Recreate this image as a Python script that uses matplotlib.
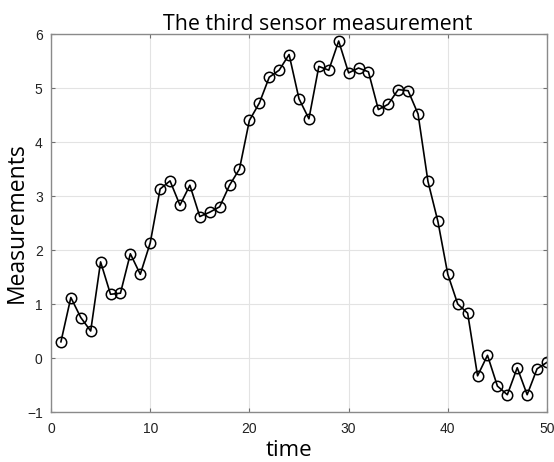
import matplotlib
matplotlib.use('Agg')
import matplotlib.pyplot as plt

time = list(range(1, 51))
measurements = [0.30, 1.12, 0.75, 0.50, 1.78, 1.18, 1.20, 1.93, 1.55, 2.13,
                3.13, 3.28, 2.83, 3.20, 2.62, 2.70, 2.80, 3.20, 3.50, 4.40,
                4.72, 5.20, 5.33, 5.62, 4.80, 4.43, 5.40, 5.33, 5.87, 5.28,
                5.37, 5.30, 4.60, 4.70, 4.97, 4.95, 4.52, 3.27, 2.53, 1.55,
                1.00, 0.83, -0.33, 0.05, -0.52, -0.68, -0.18, -0.68, -0.20, -0.08]
xticks = [0, 10, 20, 30, 40, 50]
yticks = [-1, 0, 1, 2, 3, 4, 5, 6]

fig = plt.figure(figsize=(5.54, 4.62), dpi=100)
ax = fig.add_axes([51/554, 1-412/462, 496/554, 378/462])

ax.plot(time, measurements, '-o', color='black', lw=1.2,
        markersize=7.5, markerfacecolor='none', markeredgewidth=1.1)

ax.set_xlim(0, 50)
ax.set_ylim(-1, 6)
ax.set_xticks(xticks)
ax.set_yticks(yticks)
ax.grid(True, color='#e3e3e3', lw=0.8)
ax.set_axisbelow(True)
ax.tick_params(direction='in', top=True, right=True, length=3, width=0.8,
               color='#707070', labelsize=10, labelcolor='#222222')
ax.tick_params(axis='y', pad=6)
ax.tick_params(axis='x', pad=7)
for s in ax.spines.values():
    s.set_color('#8a8a8a')
    s.set_linewidth(1.0)
for lab in ax.get_xticklabels() + ax.get_yticklabels():
    lab.set_family('Liberation Sans')

title = ax.set_title('The third sensor measurement', fontsize=15.4, family='Open Sans', pad=3)
title.set_x(0.538)
ax.set_xlabel('time', fontsize=16, family='Open Sans', labelpad=3)
ax.xaxis.label.set_x(0.479)
ax.set_ylabel('Measurements', fontsize=16.5, family='Open Sans', labelpad=-1)

fig.savefig('out.png', dpi=100)
